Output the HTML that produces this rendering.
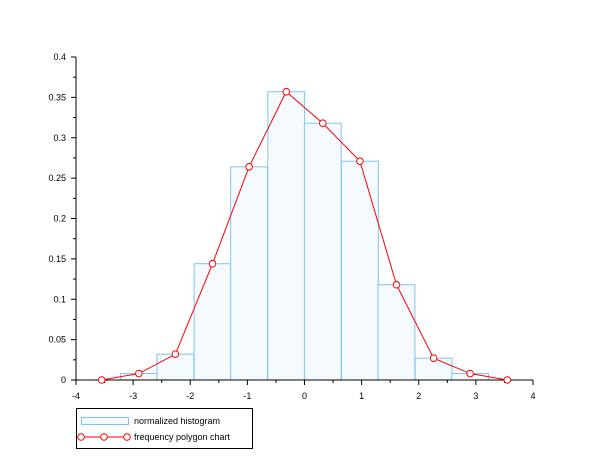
<!DOCTYPE html>
<html><head><meta charset="utf-8"><style>
body{margin:0;background:#fff}
svg text{font-family:"Liberation Sans",sans-serif;font-size:9px;fill:#000}
</style></head><body>
<svg id="c" width="610" height="460"></svg>
<script>
const centers=[-2.9,-2.26,-1.61,-0.97,-0.32,0.32,0.97,1.61,2.26,2.9];
const freqs=[0.008,0.032,0.144,0.264,0.357,0.318,0.271,0.118,0.027,0.008];
const polyX=[-3.55,-2.9,-2.26,-1.61,-0.97,-0.32,0.32,0.97,1.61,2.26,2.9,3.55];
const polyY=[0,0.008,0.032,0.144,0.264,0.357,0.318,0.271,0.118,0.027,0.008,0];
const xTicks=[-4,-3,-2,-1,0,1,2,3,4];
const yTicks=[0,0.05,0.1,0.15,0.2,0.25,0.3,0.35,0.4];
const binWidth=0.645;
const NS="http://www.w3.org/2000/svg";
const svg=document.getElementById('c');
const X=v=>76+(v+4)*457/8, Y=v=>380-v*323/0.4;
function mk(t,a,p){const e=document.createElementNS(NS,t);for(const k in a)e.setAttribute(k,a[k]);(p||svg).appendChild(e);return e;}
centers.forEach((c,i)=>{
 const r=mk('rect',{x:X(c-binWidth/2),y:Y(freqs[i]),width:X(c+binWidth/2)-X(c-binWidth/2),height:Y(0)-Y(freqs[i]),fill:'#f5faff',stroke:'#7fc4f0','stroke-width':1});
 
 
});
// axes
const ax=mk('g',{stroke:'#000','stroke-width':1});


mk('line',{x1:76,y1:57,x2:76,y2:380},ax);
mk('line',{x1:76,y1:380,x2:533,y2:380},ax);
xTicks.forEach((t,i)=>{
 mk('line',{x1:X(t),y1:380,x2:X(t),y2:385},ax);
 if(i<xTicks.length-1)mk('line',{x1:X(t+0.5),y1:380,x2:X(t+0.5),y2:383},ax);
 const tx=mk('text',{x:X(t),y:399,'text-anchor':'middle'});tx.textContent=t;
 
 
});
yTicks.forEach((t,i)=>{
 mk('line',{x1:71,y1:Y(t),x2:76,y2:Y(t)},ax);
 if(i<yTicks.length-1)mk('line',{x1:73,y1:Y(t+0.025),x2:76,y2:Y(t+0.025)},ax);
 const tx=mk('text',{x:66,y:Y(t)+3,'text-anchor':'end'});tx.textContent=t;
 
 
});
const pl=mk('polyline',{points:polyX.map((x,i)=>X(x)+','+Y(polyY[i])).join(' '),fill:'none',stroke:'#f00','stroke-width':1});


polyX.forEach((x,i)=>{
 const c=mk('circle',{cx:X(x),cy:Y(polyY[i]),r:3.3,fill:'#fff',stroke:'#f00','stroke-width':1});
 
 
});
</script>
<svg style="position:absolute;left:0;top:0" width="610" height="460">
<rect x="76.5" y="408.5" width="176" height="40" fill="#fff" stroke="#000"/>
<rect x="81.5" y="417.5" width="47" height="7" fill="#f5faff" stroke="#7fc4f0"/>
<text x="134" y="424" style="font-family:'Liberation Sans',sans-serif;font-size:9px">normalized histogram</text>
<line x1="81" y1="437" x2="127" y2="437" stroke="#f00"/>
<circle cx="81" cy="437" r="3.3" fill="#fff" stroke="#f00"/>
<circle cx="104" cy="437" r="3.3" fill="#fff" stroke="#f00"/>
<circle cx="127" cy="437" r="3.3" fill="#fff" stroke="#f00"/>
<text x="134" y="440" style="font-family:'Liberation Sans',sans-serif;font-size:9px">frequency polygon chart</text>
</svg>
</body></html>
